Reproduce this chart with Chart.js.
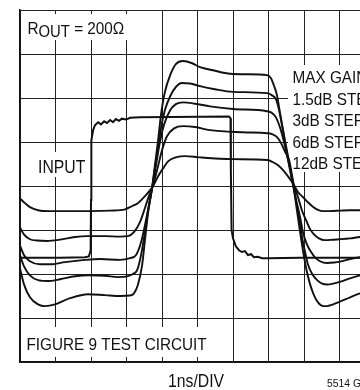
<!DOCTYPE html>
<html>
<head>
<meta charset="utf-8">
<script src="https://cdn.jsdelivr.net/npm/chart.js@4.4.1/dist/chart.umd.min.js"></script>
<style>
  html, body { margin: 0; padding: 0; background: #fff; overflow: hidden; }
  #wrap { width: 400px; height: 390px; }
</style>
</head>
<body>
<div id="wrap"><canvas id="scope" width="400" height="390"></canvas></div>
<script>
// time in ns (1ns/DIV), amplitude in screen divisions (0 = centre line)
const inputTrace = [
  [0, -1.63], [1.13, -1.63], [1.83, -1.62], [1.94, -1.6], [1.99, -1.46], [2.0, -0.32],
  [2.01, 1.04], [2.06, 1.27], [2.11, 1.38], [2.2, 1.45], [2.28, 1.4], [2.37, 1.47],
  [2.45, 1.43], [2.54, 1.5], [2.62, 1.45], [2.7, 1.52], [2.79, 1.48], [2.87, 1.53],
  [2.99, 1.51], [3.1, 1.55], [3.38, 1.56], [5.89, 1.58], [5.93, 1.54], [5.94, 0.36],
  [5.96, -1.0], [6.0, -1.19], [6.08, -1.37], [6.17, -1.46], [6.25, -1.5], [6.34, -1.48],
  [6.42, -1.57], [6.51, -1.55], [6.59, -1.62], [6.7, -1.61], [6.82, -1.64], [6.99, -1.64],
  [7.89, -1.63], [10, -1.63],
];

const maxGain = [
  [0, -1.87], [0.11, -2.23], [0.28, -2.53], [0.51, -2.69], [0.7, -2.73], [0.99, -2.69],
  [1.41, -2.55], [1.92, -2.46], [2.39, -2.48], [2.82, -2.5], [3.1, -2.49], [3.21, -2.44],
  [3.32, -2.25], [3.44, -1.8], [3.52, -1.23], [3.61, -0.6], [3.72, -0.05], [3.8, 0.47],
  [3.89, 1.04], [3.97, 1.61], [4.08, 2.13], [4.23, 2.52], [4.39, 2.77], [4.59, 2.84],
  [4.85, 2.79], [5.07, 2.7], [5.44, 2.63], [5.92, 2.55], [6.39, 2.54], [6.96, 2.52],
  [7.07, 2.45], [7.15, 2.29], [7.24, 2.06], [7.32, 1.68], [7.41, 1.27], [7.49, 0.86],
  [7.58, 0.47], [7.66, 0.13], [7.72, -0.1], [7.8, -0.55], [7.89, -1.05], [7.97, -1.46],
  [8.06, -1.87], [8.17, -2.23], [8.28, -2.48], [8.39, -2.64], [8.54, -2.73], [8.65, -2.73],
  [8.82, -2.69], [9.01, -2.63], [9.3, -2.53], [9.58, -2.44], [10, -2.37],
];

const step1p5dB = [
  [0, -1.57], [0.11, -1.82], [0.28, -2.03], [0.51, -2.14], [0.79, -2.16], [1.13, -2.12],
  [1.55, -2.05], [1.97, -2.03], [2.39, -2.04], [2.76, -2.07], [3.04, -2.05], [3.18, -2.0],
  [3.3, -1.91], [3.41, -1.57], [3.52, -1.05], [3.61, -0.55], [3.72, -0.05], [3.8, 0.4],
  [3.89, 0.86], [3.97, 1.31], [4.08, 1.72], [4.23, 2.04], [4.39, 2.25], [4.56, 2.34],
  [4.79, 2.33], [5.07, 2.27], [5.49, 2.2], [6.0, 2.14], [6.96, 2.11], [7.1, 2.06],
  [7.21, 1.97], [7.3, 1.72], [7.38, 1.38], [7.46, 1.04], [7.55, 0.68], [7.63, 0.31],
  [7.69, 0.06], [7.77, -0.32], [7.86, -0.73], [7.94, -1.14], [8.03, -1.5], [8.11, -1.78],
  [8.23, -2.0], [8.37, -2.14], [8.51, -2.22], [8.65, -2.24], [8.82, -2.22], [9.01, -2.18],
  [9.3, -2.1], [9.58, -2.03], [10, -1.94],
];

const step3dB = [
  [0, -1.35], [0.11, -1.57], [0.28, -1.71], [0.56, -1.78], [0.85, -1.78], [1.27, -1.73],
  [1.83, -1.68], [2.25, -1.66], [2.82, -1.68], [3.1, -1.64], [3.27, -1.57], [3.41, -1.28],
  [3.52, -0.89], [3.63, -0.44], [3.72, -0.05], [3.83, 0.47], [3.94, 0.99], [4.06, 1.4],
  [4.23, 1.72], [4.39, 1.86], [4.59, 1.9], [4.93, 1.87], [5.35, 1.81], [6.0, 1.75],
  [6.96, 1.7], [7.1, 1.66], [7.21, 1.56], [7.32, 1.34], [7.44, 0.99], [7.52, 0.7],
  [7.61, 0.4], [7.69, 0.06], [7.77, -0.28], [7.89, -0.71], [7.97, -1.05], [8.08, -1.32],
  [8.2, -1.5], [8.31, -1.62], [8.45, -1.71], [8.65, -1.75], [8.85, -1.74], [9.01, -1.72],
  [9.3, -1.66], [9.58, -1.62], [10, -1.57],
];

const step6dB = [
  [0, -0.94], [0.11, -1.1], [0.28, -1.21], [0.48, -1.24], [0.76, -1.25], [1.13, -1.22],
  [1.55, -1.16], [1.89, -1.14], [2.39, -1.14], [2.82, -1.15], [3.04, -1.14], [3.21, -1.05],
  [3.38, -0.82], [3.52, -0.5], [3.63, -0.23], [3.72, -0.05], [3.86, 0.36], [4.0, 0.81],
  [4.14, 1.13], [4.34, 1.31], [4.59, 1.36], [4.93, 1.34], [5.35, 1.27], [6.28, 1.22],
  [6.96, 1.2], [7.1, 1.18], [7.24, 1.11], [7.35, 0.98], [7.46, 0.79], [7.58, 0.59],
  [7.66, 0.25], [7.72, 0.0], [7.83, -0.25], [7.94, -0.55], [8.06, -0.78], [8.17, -0.98],
  [8.28, -1.1], [8.42, -1.19], [8.59, -1.23], [8.82, -1.22], [9.01, -1.21], [9.3, -1.19],
  [9.58, -1.16], [10, -1.14],
];

const step12dB = [
  [0, -0.28], [0.14, -0.39], [0.28, -0.48], [0.51, -0.55], [0.85, -0.57], [1.41, -0.57],
  [1.97, -0.57], [2.54, -0.56], [2.96, -0.53], [3.15, -0.46], [3.32, -0.39], [3.52, -0.23],
  [3.66, -0.1], [3.75, 0.0], [3.89, 0.22], [4.03, 0.4], [4.17, 0.56], [4.39, 0.65],
  [4.65, 0.68], [5.07, 0.65], [6.0, 0.61], [6.96, 0.59], [7.13, 0.54], [7.27, 0.47],
  [7.41, 0.36], [7.55, 0.22], [7.69, 0.06], [7.83, -0.14], [7.97, -0.25], [8.11, -0.37],
  [8.25, -0.47], [8.39, -0.54], [8.54, -0.57], [8.73, -0.57], [9.01, -0.56], [9.3, -0.55],
  [9.58, -0.55], [10, -0.55],
];

const stepLabels = ["MAX GAIN", "1.5dB STEP", "3dB STEP", "6dB STEP", "12dB STEP"];

const FONT = '"Liberation Sans", Arial, sans-serif';
const INK = "#111";
const SQUEEZE = 0.9;

function toPoints(trace) {
  return trace.map((p) => ({ x: p[0], y: p[1] }));
}

// condensed type: regular sans squeezed horizontally
function narrowText(ctx, text, x, y, size) {
  ctx.save();
  ctx.translate(x, y);
  ctx.scale(SQUEEZE, 1);
  ctx.font = size + "px " + FONT;
  ctx.fillText(text, 0, 0);
  const w = ctx.measureText(text).width * SQUEEZE;
  ctx.restore();
  return w;
}

const whiteBackground = {
  id: "whiteBackground",
  beforeDraw: (chart) => {
    const { ctx } = chart;
    ctx.save();
    ctx.fillStyle = "#fff";
    ctx.fillRect(0, 0, chart.width, chart.height);
    ctx.restore();
  },
};

// blank patches behind the captions so the graticule stops there
const captionPatches = {
  id: "captionPatches",
  beforeDatasetsDraw: (chart) => {
    const { ctx } = chart;
    ctx.save();
    ctx.fillStyle = "#fff";
    ctx.fillRect(21, 14, 120, 26);
    ctx.fillRect(34, 152, 54, 25);
    ctx.fillRect(288, 65, 112, 107);
    ctx.fillRect(21, 327, 187, 30);
    ctx.restore();
  },
};

const captions = {
  id: "captions",
  afterDatasetsDraw: (chart) => {
    const { ctx } = chart;
    ctx.save();
    ctx.fillStyle = INK;
    ctx.textBaseline = "alphabetic";
    let x = 27.5;
    x += narrowText(ctx, "R", x, 33.5, 17);
    x += narrowText(ctx, "OUT", x, 37, 16.5);
    narrowText(ctx, " = 200\u03A9", x, 33.5, 17);

    narrowText(ctx, "INPUT", 38, 172.5, 17.5);

    stepLabels.forEach((label, i) => {
      narrowText(ctx, label, 292.5, 83.3 + i * 21.5, 17);
    });

    narrowText(ctx, "FIGURE 9 TEST CIRCUIT", 26.5, 349.5, 17);
    narrowText(ctx, "1ns/DIV", 168, 386.5, 17.5);
    narrowText(ctx, "5514 G", 327, 387, 11.5);
    ctx.restore();
  },
};

function trace(data, width, smooth) {
  return {
    data: toPoints(data),
    borderColor: INK,
    borderWidth: width,
    pointRadius: 0,
    fill: false,
    tension: 0,
    cubicInterpolationMode: smooth ? "monotone" : "default",
  };
}

new Chart(document.getElementById("scope"), {
  type: "line",
  data: {
    datasets: [
      trace(inputTrace, 2, false),
      trace(maxGain, 1.9, true),
      trace(step1p5dB, 1.9, true),
      trace(step3dB, 1.9, true),
      trace(step6dB, 1.9, true),
      trace(step12dB, 1.9, true),
    ],
  },
  options: {
    responsive: false,
    animation: false,
    devicePixelRatio: 1,
    layout: {
      padding: { top: 10, left: 20, right: 25, bottom: 28 },
    },
    plugins: {
      legend: { display: false },
      tooltip: { enabled: false },
    },
    scales: {
      x: {
        type: "linear",
        min: 0,
        max: 10,
        ticks: { stepSize: 1, display: false },
        grid: { color: "#222", lineWidth: 1, drawTicks: false },
        border: { display: true, color: INK, width: 1.5 },
      },
      y: {
        type: "linear",
        min: -4,
        max: 4,
        ticks: { stepSize: 1, display: false },
        grid: { color: "#222", lineWidth: 1, drawTicks: false },
        border: { display: true, color: INK, width: 1.5 },
      },
    },
  },
  plugins: [whiteBackground, captionPatches, captions],
});
</script>
</body>
</html>
